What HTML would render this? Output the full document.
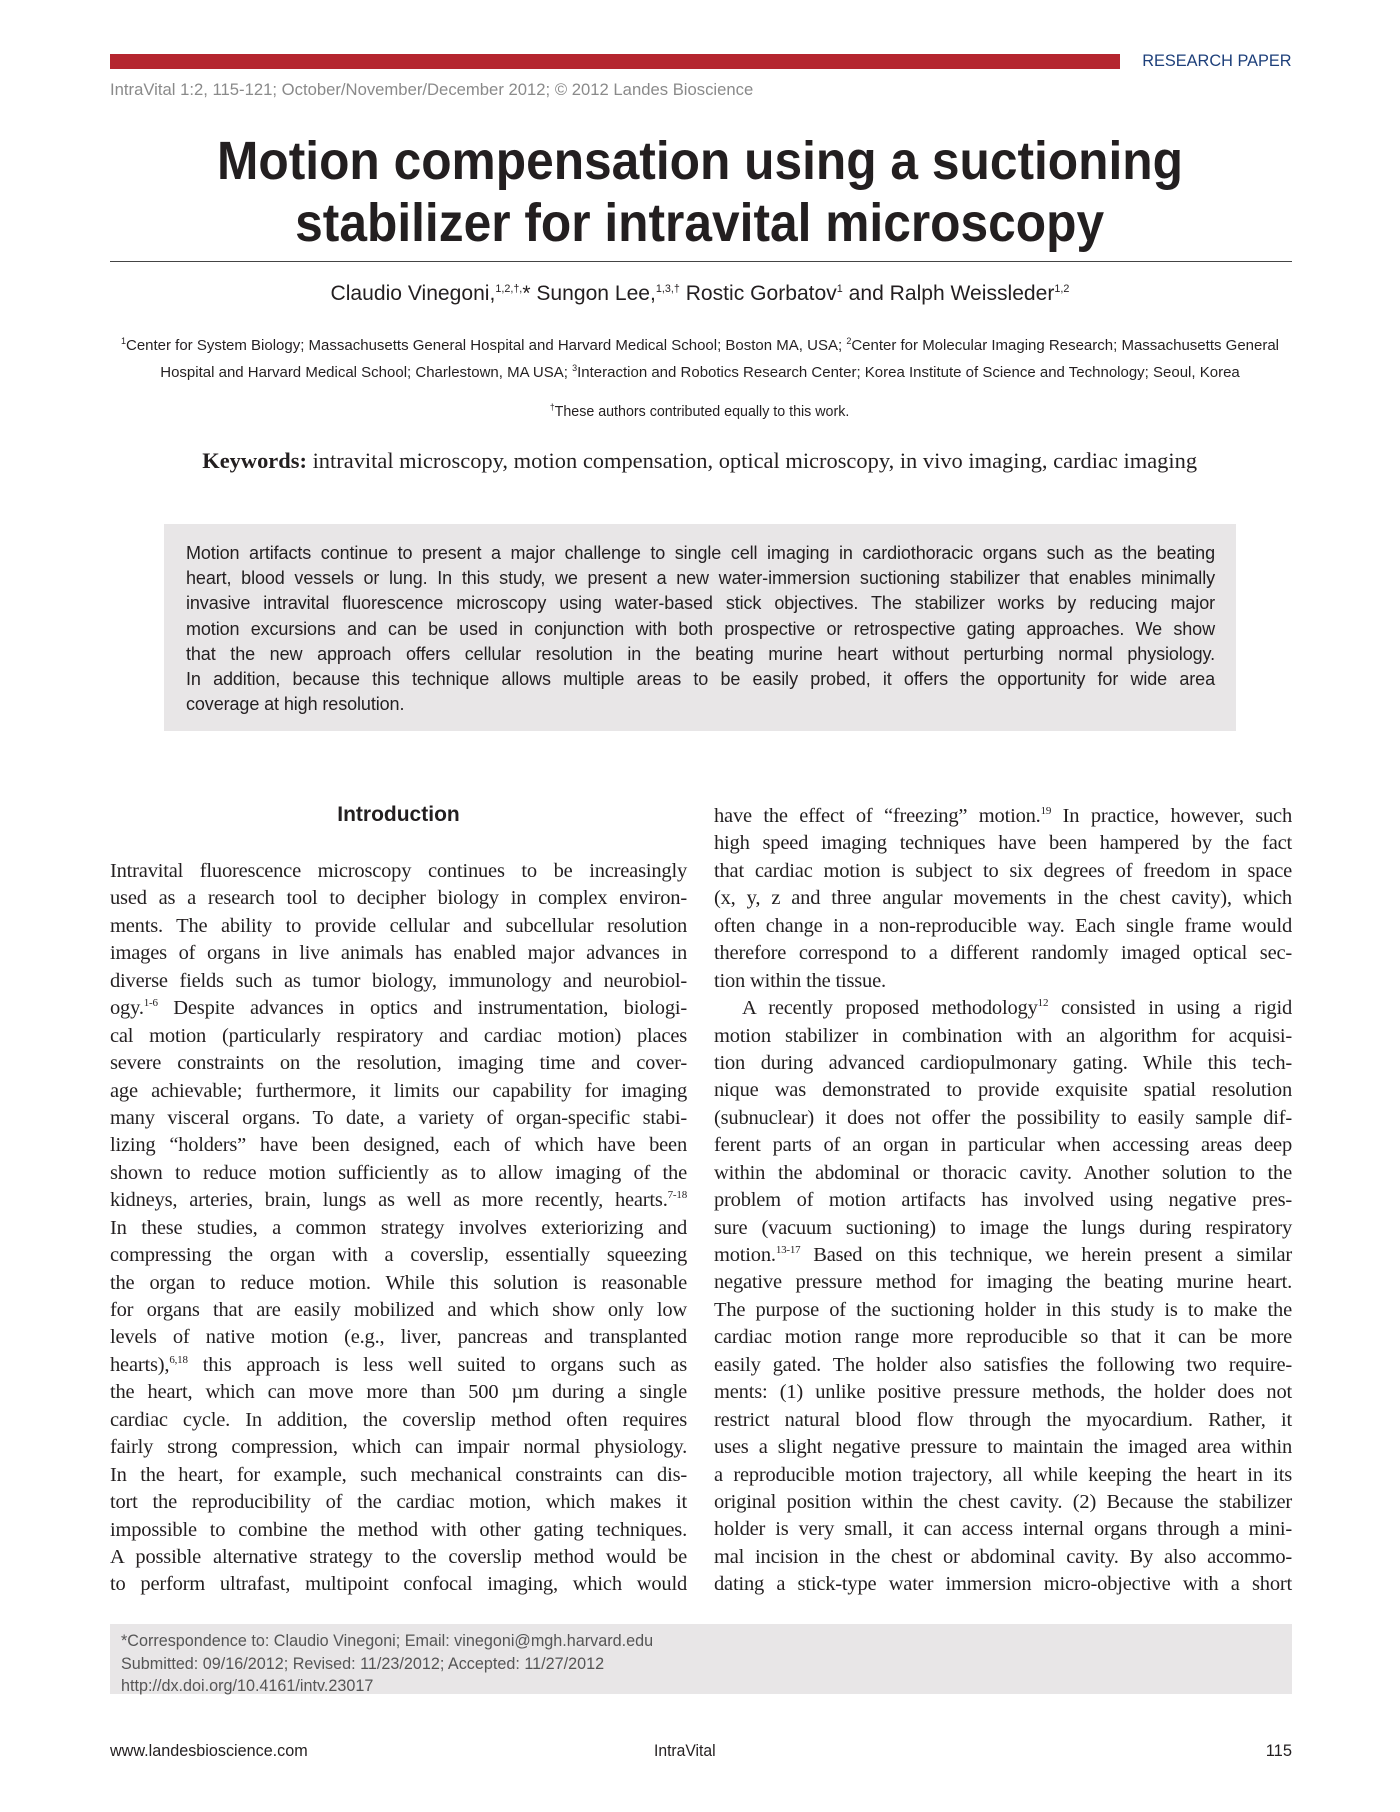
<!DOCTYPE html>
<html><head><meta charset="utf-8"><style>
body{margin:0;width:1400px;height:1812px;background:#fff;position:relative;overflow:hidden;font-family:"Liberation Sans",sans-serif;color:#231f20}
.a{position:absolute;white-space:nowrap}
.c{text-align:center;left:0;width:1400px}
.sx{display:inline-block;transform:scaleX(0.92);transform-origin:center}
.col{position:absolute;font-family:"Liberation Serif",serif;font-size:20.5px;letter-spacing:-0.2px}
.col div{height:27.45px;line-height:27.45px;white-space:nowrap;text-align:justify;text-align-last:justify}
.col div.l{text-align-last:left}
.col sup{font-size:11px;line-height:0}
.abs div{height:25.2px;line-height:25.2px;white-space:nowrap;text-align:justify;text-align-last:justify}
</style></head><body>
<div class="a" style="left:110px;top:54px;width:1010px;height:15px;background:#b5262f"></div>
<div class="a" style="right:108px;top:51px;font-size:17px;color:#1d3f7a"><span style="display:inline-block;transform:scaleX(0.96);transform-origin:right">RESEARCH PAPER</span></div>
<div class="a" style="left:110px;top:80px;font-size:17px;color:#8a8a8a"><span style="display:inline-block;transform:scaleX(0.98);transform-origin:left">IntraVital 1:2, 115-121; October/November/December 2012; © 2012 Landes Bioscience</span></div>
<div class="a c" style="top:130px;font-size:54px;font-weight:bold;line-height:62px;color:#231f20"><span class="sx">Motion compensation using a suctioning</span><br><span class="sx">stabilizer for intravital microscopy</span></div>
<div class="a" style="left:110px;top:261px;width:1182px;height:1px;background:#444"></div>
<div class="a c" style="top:281px;font-size:21.5px"><span class="sx" style="transform:scaleX(0.98)">Claudio Vinegoni,<sup style="font-size:11px">1,2,†,</sup>* Sungon Lee,<sup style="font-size:11px">1,3,†</sup> Rostic Gorbatov<sup style="font-size:11px">1</sup> and Ralph Weissleder<sup style="font-size:11px">1,2</sup></span></div>
<div class="a c" style="top:330px;font-size:15px;line-height:23px"><span class="sx" style="transform:scaleX(1.0)"><sup style="font-size:9px">1</sup>Center for System Biology; Massachusetts General Hospital and Harvard Medical School; Boston MA, USA; <sup style="font-size:9px">2</sup>Center for Molecular Imaging Research; Massachusetts General</span><br><span class="sx" style="transform:scaleX(1.0)">Hospital and Harvard Medical School; Charlestown, MA USA; <sup style="font-size:9px">3</sup>Interaction and Robotics Research Center; Korea Institute of Science and Technology; Seoul, Korea</span></div>
<div class="a c" style="top:402px;font-size:15px"><span class="sx" style="transform:scaleX(0.95)"><sup style="font-size:9px">†</sup>These authors contributed equally to this work.</span></div>
<div class="a c" style="top:448px;font-size:22px;font-family:'Liberation Serif',serif"><span class="sx" style="transform:scaleX(1.02)"><b>Keywords:</b> intravital microscopy, motion compensation, optical microscopy, in vivo imaging, cardiac imaging</span></div>
<div class="a abs" style="left:164px;top:524px;width:1072px;height:207px;background:#e8e6e7"></div>
<div class="a abs" style="left:186px;top:541px;width:1029px;font-size:18px;letter-spacing:-0.1px">
<div>Motion artifacts continue to present a major challenge to single cell imaging in cardiothoracic organs such as the beating</div>
<div>heart, blood vessels or lung. In this study, we present a new water-immersion suctioning stabilizer that enables minimally</div>
<div>invasive intravital fluorescence microscopy using water-based stick objectives. The stabilizer works by reducing major</div>
<div>motion excursions and can be used in conjunction with both prospective or retrospective gating approaches. We show</div>
<div>that the new approach offers cellular resolution in the beating murine heart without perturbing normal physiology.</div>
<div>In addition, because this technique allows multiple areas to be easily probed, it offers the opportunity for wide area</div>
<div style="text-align-last:left">coverage at high resolution.</div>
</div>
<div class="a" style="left:110px;width:577px;text-align:center;top:803px;font-size:21px;font-weight:bold">Introduction</div>
<div class="col" style="left:110px;top:858px;width:577px">
<div>Intravital fluorescence microscopy continues to be increasingly</div>
<div>used as a research tool to decipher biology in complex environ-</div>
<div>ments. The ability to provide cellular and subcellular resolution</div>
<div>images of organs in live animals has enabled major advances in</div>
<div>diverse fields such as tumor biology, immunology and neurobiol-</div>
<div>ogy.<sup>1-6</sup> Despite advances in optics and instrumentation, biologi-</div>
<div>cal motion (particularly respiratory and cardiac motion) places</div>
<div>severe constraints on the resolution, imaging time and cover-</div>
<div>age achievable; furthermore, it limits our capability for imaging</div>
<div>many visceral organs. To date, a variety of organ-specific stabi-</div>
<div>lizing “holders” have been designed, each of which have been</div>
<div>shown to reduce motion sufficiently as to allow imaging of the</div>
<div>kidneys, arteries, brain, lungs as well as more recently, hearts.<sup>7-18</sup></div>
<div>In these studies, a common strategy involves exteriorizing and</div>
<div>compressing the organ with a coverslip, essentially squeezing</div>
<div>the organ to reduce motion. While this solution is reasonable</div>
<div>for organs that are easily mobilized and which show only low</div>
<div>levels of native motion (e.g., liver, pancreas and transplanted</div>
<div>hearts),<sup>6,18</sup> this approach is less well suited to organs such as</div>
<div>the heart, which can move more than 500 µm during a single</div>
<div>cardiac cycle. In addition, the coverslip method often requires</div>
<div>fairly strong compression, which can impair normal physiology.</div>
<div>In the heart, for example, such mechanical constraints can dis-</div>
<div>tort the reproducibility of the cardiac motion, which makes it</div>
<div>impossible to combine the method with other gating techniques.</div>
<div>A possible alternative strategy to the coverslip method would be</div>
<div>to perform ultrafast, multipoint confocal imaging, which would</div>
</div>
<div class="col" style="left:714px;top:803px;width:578px">
<div>have the effect of “freezing” motion.<sup>19</sup> In practice, however, such</div>
<div>high speed imaging techniques have been hampered by the fact</div>
<div>that cardiac motion is subject to six degrees of freedom in space</div>
<div>(x, y, z and three angular movements in the chest cavity), which</div>
<div>often change in a non-reproducible way. Each single frame would</div>
<div>therefore correspond to a different randomly imaged optical sec-</div>
<div class="l">tion within the tissue.</div>
<div style="padding-left:28px">A recently proposed methodology<sup>12</sup> consisted in using a rigid</div>
<div>motion stabilizer in combination with an algorithm for acquisi-</div>
<div>tion during advanced cardiopulmonary gating. While this tech-</div>
<div>nique was demonstrated to provide exquisite spatial resolution</div>
<div>(subnuclear) it does not offer the possibility to easily sample dif-</div>
<div>ferent parts of an organ in particular when accessing areas deep</div>
<div>within the abdominal or thoracic cavity. Another solution to the</div>
<div>problem of motion artifacts has involved using negative pres-</div>
<div>sure (vacuum suctioning) to image the lungs during respiratory</div>
<div>motion.<sup>13-17</sup> Based on this technique, we herein present a similar</div>
<div>negative pressure method for imaging the beating murine heart.</div>
<div>The purpose of the suctioning holder in this study is to make the</div>
<div>cardiac motion range more reproducible so that it can be more</div>
<div>easily gated. The holder also satisfies the following two require-</div>
<div>ments: (1) unlike positive pressure methods, the holder does not</div>
<div>restrict natural blood flow through the myocardium. Rather, it</div>
<div>uses a slight negative pressure to maintain the imaged area within</div>
<div>a reproducible motion trajectory, all while keeping the heart in its</div>
<div>original position within the chest cavity. (2) Because the stabilizer</div>
<div>holder is very small, it can access internal organs through a mini-</div>
<div>mal incision in the chest or abdominal cavity. By also accommo-</div>
<div>dating a stick-type water immersion micro-objective with a short</div>
</div>
<div class="a" style="left:110px;top:1624px;width:1182px;height:70px;background:#e8e6e7"></div>
<div class="a" style="left:121px;top:1630px;font-size:16.5px;line-height:22.5px;color:#555"><div style="transform:scaleX(0.98);transform-origin:left">*Correspondence to: Claudio Vinegoni; Email: vinegoni@mgh.harvard.edu<br>Submitted: 09/16/2012; Revised: 11/23/2012; Accepted: 11/27/2012<br>http://dx.doi.org/10.4161/intv.23017</div></div>
<div class="a" style="left:110px;top:1742px;font-size:16.5px"><span style="display:inline-block;transform:scaleX(0.98);transform-origin:left">www.landesbioscience.com</span></div>
<div class="a" style="left:654px;top:1742px;font-size:16.5px"><span style="display:inline-block;transform:scaleX(0.95);transform-origin:left">IntraVital</span></div>
<div class="a" style="right:108px;top:1742px;font-size:16.5px">115</div>
</body></html>
